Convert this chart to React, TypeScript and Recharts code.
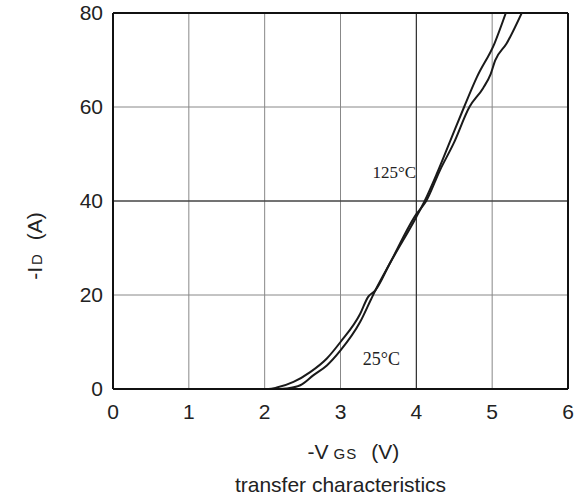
import {
  LineChart,
  Line,
  XAxis,
  YAxis,
  CartesianGrid,
  ReferenceLine,
  ReferenceDot,
} from "recharts";

// 25°C curve (-VGS in V, -ID in A)
const vgs25 = [0, 2.2, 2.29, 2.47, 2.64, 2.82, 3.0, 3.26, 3.4, 3.46, 3.65, 4.0, 4.11, 4.27, 4.45, 4.63, 4.8, 5.03, 5.18];
const id25 = [0, 0, 0.1, 0.8, 2.9, 5.0, 8.2, 14.3, 19, 21, 26.7, 36.6, 40, 45.8, 52.9, 60, 66.4, 73.5, 80];

// 125°C curve
const vgs125 = [0, 2.05, 2.16, 2.38, 2.6, 2.82, 3.0, 3.26, 3.36, 3.46, 3.65, 4.0, 4.13, 4.31, 4.49, 4.7, 4.88, 4.98, 5.04, 5.19, 5.39];
const id125 = [0, 0, 0.3, 1.5, 3.6, 6.5, 10, 16, 19.5, 21, 26.7, 37.2, 40, 46.5, 52.2, 60, 64, 67, 69.9, 73.5, 80];

const xTicks = [0, 1, 2, 3, 4, 5, 6];
const yTicks = [0, 20, 40, 60, 80];

const data25 = vgs25.map((v, i) => ({ vgs: v, id: id25[i] }));
const data125 = vgs125.map((v, i) => ({ vgs: v, id: id125[i] }));

const sans = "Arial, 'Liberation Sans', sans-serif";
const serif = "'Times New Roman', 'Liberation Serif', serif";

const XTitle = (props: any) => {
  const { viewBox } = props;
  const cx = viewBox.x + viewBox.width / 2;
  return (
    <g fill="#222" fontFamily={sans}>
      <text x={cx - 33} y={viewBox.y + 70} fontSize={21}>
        -V
        <tspan dx={5} fontSize={15} letterSpacing={1}>GS</tspan>
        <tspan dx={14}>(V)</tspan>
      </text>
      <text x={cx} y={viewBox.y + 103} textAnchor="middle" fontSize={21}>
        transfer characteristics
      </text>
    </g>
  );
};

const YTitle = () => {
  const x = 42;
  const y = 246;
  return (
    <text
      x={x}
      y={y}
      transform={`rotate(-90 ${x} ${y})`}
      textAnchor="middle"
      fill="#222"
      fontFamily={sans}
      fontSize={21}
    >
      -I<tspan dx={2} fontSize={15}>D</tspan>
      <tspan dx={14}>(A)</tspan>
    </text>
  );
};

export default function App() {
  return (
    <div style={{ position: "absolute", left: 0, top: 0, width: 587, height: 502, background: "#fff" }}>
      <LineChart width={587} height={502} margin={{ top: 13, right: 19, left: 0, bottom: 0 }}>
        <CartesianGrid stroke="#888" strokeWidth={1} />
        <XAxis
          dataKey="vgs"
          type="number"
          domain={[0, 6]}
          ticks={xTicks}
          allowDataOverflow
          height={113}
          stroke="#111"
          strokeWidth={2}
          tickLine={false}
          tickMargin={9}
          tick={{ fill: "#222", fontSize: 21, fontFamily: sans }}
          label={<XTitle />}
        />
        <YAxis
          type="number"
          domain={[0, 80]}
          ticks={yTicks}
          allowDataOverflow
          width={113}
          stroke="#111"
          strokeWidth={2}
          tickLine={false}
          tickMargin={4}
          tick={{ fill: "#222", fontSize: 21, fontFamily: sans }}
          label={<YTitle />}
        />
        <ReferenceLine x={4} stroke="#222" strokeWidth={1} />
        <ReferenceLine y={40} stroke="#222" strokeWidth={1} />
        <ReferenceLine x={6} stroke="#111" strokeWidth={2} />
        <ReferenceLine y={80} stroke="#111" strokeWidth={2} />
        <Line
          data={data25}
          dataKey="id"
          type="monotone"
          stroke="#1a1a1a"
          strokeWidth={2}
          dot={false}
          isAnimationActive={false}
        />
        <Line
          data={data125}
          dataKey="id"
          type="monotone"
          stroke="#1a1a1a"
          strokeWidth={2}
          dot={false}
          isAnimationActive={false}
        />
        <ReferenceDot
          x={3.71}
          y={46.1}
          r={0}
          label={{ value: "125°C", position: "center", fill: "#222", fontSize: 17, fontFamily: serif }}
        />
        <ReferenceDot
          x={3.54}
          y={6.5}
          r={0}
          label={{ value: "25°C", position: "center", fill: "#222", fontSize: 18, fontFamily: serif }}
        />
      </LineChart>
    </div>
  );
}
